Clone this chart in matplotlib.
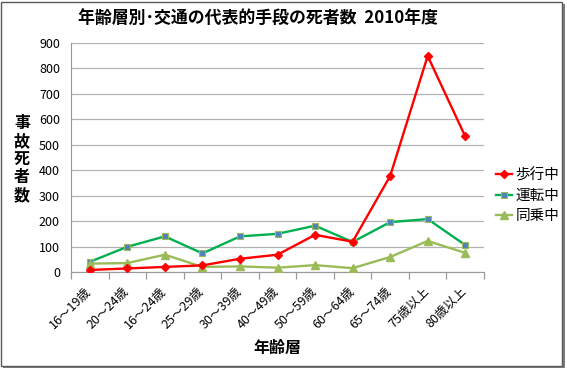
import matplotlib
matplotlib.use("Agg")
import matplotlib.pyplot as plt
from matplotlib.patches import Rectangle
from matplotlib.transforms import ScaledTranslation
import numpy as np

plt.rcParams['font.family'] = ['Noto Sans CJK JP', 'DejaVu Sans']

categories = ["16～19歳", "20～24歳", "16～24歳", "25～29歳", "30～39歳", "40～49歳",
              "50～59歳", "60～64歳", "65～74歳", "75歳以上", "80歳以上"]
walking = [8, 14, 20, 26, 52, 68, 146, 119, 377, 849, 533]
driving = [40, 99, 140, 73, 140, 150, 182, 118, 196, 208, 106]
passenger = [33, 35, 68, 20, 22, 17, 27, 15, 59, 122, 75]
yticks = [0, 100, 200, 300, 400, 500, 600, 700, 800, 900]

W, H = 567, 372
fig = plt.figure(figsize=(W / 100, H / 100), dpi=100)
fig.patch.set_facecolor('white')

# chart border with shadow
fig.patches.append(Rectangle((3 / W, 1 - 368 / H), 562 / W, 364 / H, transform=fig.transFigure,
                             facecolor='#7f7f7f', edgecolor='none', zorder=-3))
fig.patches.append(Rectangle((1 / W, 1 - 366 / H), 561 / W, 364 / H, transform=fig.transFigure,
                             facecolor='white', edgecolor='#5a5a5a', linewidth=1.0, zorder=-2))

ax = fig.add_axes([71 / W, 1 - 272 / H, (484 - 71) / W, (272 - 43) / H])
ax.set_facecolor('none')
x = np.arange(len(categories))

ax.plot(x, walking, color='#FF0000', lw=1.7, marker='D', ms=3.8, mfc='#FF0000', mec='#FF0000',
        label='歩行中', zorder=4)
ax.plot(x, driving, color='#00B050', lw=1.7, marker='s', ms=5, mfc='#4F81BD', mec='#9BBB59',
        mew=0.8, label='運転中', zorder=3)
ax.plot(x, passenger, color='#9BBB59', lw=1.7, marker='^', ms=5.5, mfc='#9BBB59', mec='#9BBB59',
        label='同乗中', zorder=3)

ax.set_xlim(-0.5, len(categories) - 0.5)
ax.set_ylim(0, 900)
ax.set_yticks(yticks)
ax.set_yticklabels([str(v) for v in yticks], fontsize=9)
ax.yaxis.grid(True, color='#b3b3b3', lw=0.9)
ax.set_axisbelow(True)
ax.tick_params(axis='y', length=0, pad=8)

ax.set_xticks(x)
ax.set_xticklabels(categories, rotation=45, ha='right', va='top', fontsize=9,
                   rotation_mode='anchor')
ax.tick_params(axis='x', length=0, pad=9)
off = ScaledTranslation(-5 / 100, 0, fig.dpi_scale_trans)
for lbl in ax.get_xticklabels():
    lbl.set_transform(lbl.get_transform() + off)
ax.set_xticks(np.arange(-0.5, len(categories)), minor=True)
ax.tick_params(axis='x', which='minor', length=5, color='#999999', width=0.9)

for s in ['top', 'right']:
    ax.spines[s].set_visible(False)
ax.spines['left'].set_color('#999999')
ax.spines['bottom'].set_color('#999999')

fig.text(258 / W, 1 - 18 / H, "年齢層別･交通の代表的手段の死者数  2010年度", ha='center', va='center',
         fontsize=12.2, fontweight='bold')
fig.text(22 / W, 1 - 159 / H, "事\n故\n死\n者\n数", ha='center', va='center', fontsize=11.5,
         fontweight='bold', linespacing=1.15)
fig.text(277 / W, 1 - 348 / H, "年齢層", ha='center', va='center', fontsize=11.5, fontweight='bold')

leg = fig.legend(loc='upper left', bbox_to_anchor=(496 / W, 1 - 168 / H), frameon=False,
                 fontsize=10.5, handlelength=1.1, handletextpad=0.25, labelspacing=0.45,
                 borderaxespad=0, borderpad=0)

fig.savefig('out.png', dpi=100, facecolor='white')
